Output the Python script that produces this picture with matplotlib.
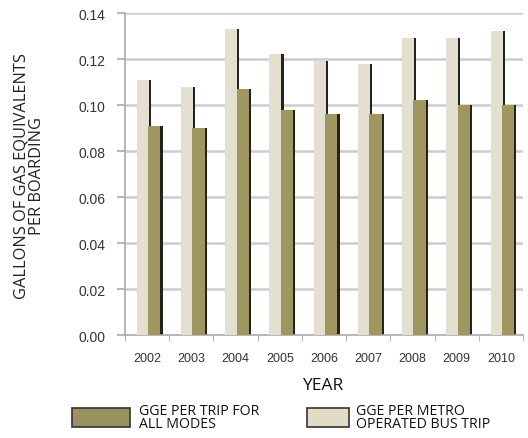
import matplotlib.pyplot as plt
from matplotlib.patches import Rectangle
import numpy as np

years = ['2002', '2003', '2004', '2005', '2006', '2007', '2008', '2009', '2010']
metro_bus = [0.111, 0.108, 0.133, 0.122, 0.119, 0.118, 0.129, 0.129, 0.132]
all_modes = [0.091, 0.090, 0.107, 0.098, 0.096, 0.096, 0.102, 0.100, 0.100]

light = '#e3e0cf'
dark = '#a09660'
shadow = '#222222'
grid = '#cccccc'

fig = plt.figure(figsize=(5.28, 4.39), dpi=100)
ax = fig.add_axes([0.2367, 0.2346, 0.7538, 0.7334])

x = np.arange(len(years))
w = 0.27
sw = 0.05

# shadows first, bars on top
ax.bar(x - 0.233 + w, metro_bus, width=sw, align='edge', color=shadow, zorder=2)
ax.bar(x - 0.233, metro_bus, width=w, align='edge', color=light, zorder=3)
ax.bar(x + 0.023 + w + 0.01, all_modes, width=sw, align='edge', color=shadow, zorder=2)
ax.bar(x + 0.023, all_modes, width=w + 0.01, align='edge', color=dark, zorder=3)

ax.set_xlim(-0.5, len(years) - 0.5)
ax.set_ylim(0, 0.14)
yt = np.arange(0, 0.141, 0.02)
ax.set_yticks(yt)
ax.set_yticklabels(['%.2f' % v for v in yt],
                   fontsize=10, color='#333333', family='Liberation Sans')

ax.set_xticks(x)
ax.set_xticklabels(years, fontsize=9, color='#333333', family='Liberation Sans')
ax.tick_params(axis='x', which='major', length=0, pad=12)
ax.set_xticks(np.arange(-0.5, len(years)), minor=True)
ax.tick_params(axis='x', which='minor', length=4, color='#aaaaaa')
ax.tick_params(axis='y', length=6, color='#aaaaaa', width=1.2, pad=8)

for s in ['top', 'right']:
    ax.spines[s].set_visible(False)
ax.spines['left'].set_color('#aaaaaa')
ax.spines['bottom'].set_color('#aaaaaa')
ax.spines['left'].set_linewidth(1.2)
ax.spines['bottom'].set_linewidth(1.2)

for v in yt[1:]:
    ax.axhline(v, color=grid, linewidth=1.8, zorder=1)

fig.text(323 / 528, 1 - 386 / 439, 'YEAR', ha='center', va='center',
         fontsize=12.5, family='Open Sans', color='#111111')
fig.text(29 / 528, 1 - 176 / 439, 'GALLONS OF GAS EQUIVALENTS\nPER BOARDING',
         ha='center', va='center', rotation=90, fontsize=11.8,
         family='Open Sans', color='#222222', linespacing=0.95)

# legend
fig.patches.append(Rectangle((72 / 528, 1 - 428 / 439), 58 / 528, 19 / 439,
                             transform=fig.transFigure, facecolor='#9b9262',
                             edgecolor='#333333', linewidth=1.2))
fig.text(139 / 528, 1 - 418 / 439, 'GGE PER TRIP FOR\nALL MODES', ha='left',
         va='center', fontsize=10.2, family='Open Sans', color='#111111',
         linespacing=0.9)
fig.patches.append(Rectangle((307 / 528, 1 - 428 / 439), 42 / 528, 19 / 439,
                             transform=fig.transFigure, facecolor='#e0dcc6',
                             edgecolor='#333333', linewidth=1.2))
fig.text(356 / 528, 1 - 418 / 439, 'GGE PER METRO\nOPERATED BUS TRIP', ha='left',
         va='center', fontsize=10.2, family='Open Sans', color='#111111',
         linespacing=0.9)

fig.savefig('out.png', dpi=100)
